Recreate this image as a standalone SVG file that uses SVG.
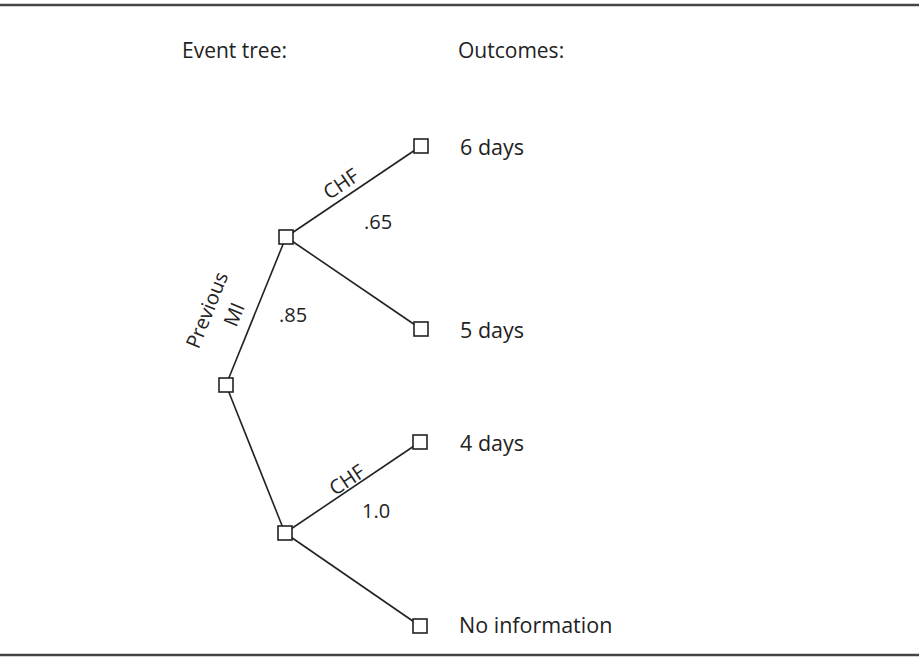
<svg xmlns="http://www.w3.org/2000/svg" width="919" height="660" viewBox="0 0 919 660">
<style>
text{font-family:"Open Sans","Noto Sans",sans-serif;fill:#222}
.h{font-size:21px}
.o{font-size:21.5px}
.p{font-size:20px}
.s{font-size:20px}
.box{fill:#fff;stroke:#222;stroke-width:1.6}
.ln{stroke:#222;stroke-width:1.6;fill:none}
.rule{stroke:#444;stroke-width:2.5}
</style>
<rect width="919" height="660" fill="#fff"/>
<line class="rule" x1="0" y1="5" x2="919" y2="5"/>
<line class="rule" x1="0" y1="655" x2="919" y2="655"/>
<text class="h" x="182" y="58">Event tree:</text>
<text class="h" x="458" y="58">Outcomes:</text>
<g id="connectors">
<line class="ln" x1="226" y1="385" x2="286" y2="237"/>
<line class="ln" x1="226" y1="385" x2="285" y2="533"/>
<line class="ln" x1="286" y1="237" x2="421" y2="146"/>
<line class="ln" x1="286" y1="237" x2="421" y2="329"/>
<line class="ln" x1="285" y1="533" x2="420" y2="442"/>
<line class="ln" x1="285" y1="533" x2="420" y2="626"/>
<g transform="translate(341,184) rotate(-34)"><text class="p" x="0" y="7" text-anchor="middle">CHF</text></g>
<g transform="translate(347,480) rotate(-34)"><text class="p" x="0" y="7" text-anchor="middle">CHF</text></g>
<g transform="translate(207,310) rotate(-68)"><text class="p" x="0" y="7" text-anchor="middle">Previous</text><text class="p" x="6" y="34" text-anchor="middle">MI</text></g>
<text class="p" x="364" y="229">.65</text>
<text class="p" x="279" y="322">.85</text>
<text class="s" x="362" y="518">1.0</text>
</g>
<g id="root"><rect class="box" x="219" y="378" width="14" height="14"/></g>
<g id="mi"><rect class="box" x="279" y="230" width="14" height="14"/></g>
<g id="nomi"><rect class="box" x="278" y="526" width="14" height="14"/></g>
<g id="o1"><rect class="box" x="414" y="139" width="14" height="14"/><text class="o" x="460" y="155">6 days</text></g>
<g id="o2"><rect class="box" x="414" y="322" width="14" height="14"/><text class="o" x="460" y="338">5 days</text></g>
<g id="o3"><rect class="box" x="413" y="435" width="14" height="14"/><text class="o" x="460" y="451">4 days</text></g>
<g id="o4"><rect class="box" x="413" y="619" width="14" height="14"/><text class="o" x="459" y="633">No information</text></g>
</svg>
